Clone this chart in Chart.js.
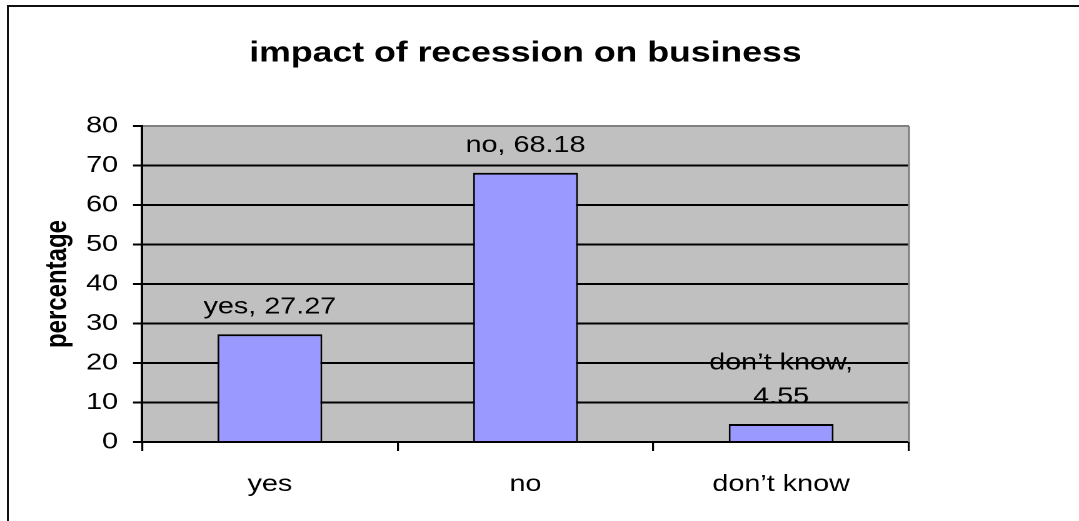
<!DOCTYPE html>
<html>
<head>
<meta charset="utf-8">
<script src="https://cdn.jsdelivr.net/npm/chart.js@4.4.1/dist/chart.umd.min.js"></script>
<style>
  html, body { margin: 0; padding: 0; background: #fff; width: 1079px; height: 521px; overflow: hidden; }
  #frame { position: absolute; left: 7px; top: 5px; width: 1200px; height: 600px;
           border-left: 2px solid #111; border-top: 2px solid #111; box-sizing: border-box; }
  #chart { position: absolute; left: 0; top: 0; }
</style>
</head>
<body>
<div id="frame"></div>
<!-- drawn on a narrower canvas and widened by CSS, giving the wide lettering of the original chart -->
<canvas id="chart" width="863" height="521" style="width:1079px;height:521px"></canvas>
<script>
const categories = ['yes', 'no', 'don’t know'];
const percentages = [27.27, 68.18, 4.55];
const yTickValues = [0, 10, 20, 30, 40, 50, 60, 70, 80];

const FONT = '"Liberation Sans", Arial, sans-serif';
const LABEL_MAX_WIDTH = 120;

// grey plot area behind the grid
const plotBackground = {
  id: 'plotBackground',
  beforeDraw(chart) {
    const { ctx, chartArea: a } = chart;
    ctx.save();
    ctx.fillStyle = '#C0C0C0';
    ctx.fillRect(a.left, a.top, a.right - a.left, a.bottom - a.top);
    ctx.restore();
  }
};

// grey right edge of the plot area
const plotFrame = {
  id: 'plotFrame',
  afterDraw(chart) {
    const { ctx, chartArea: a } = chart;
    ctx.save();
    ctx.strokeStyle = '#808080';
    ctx.lineWidth = 1.6;
    ctx.beginPath();
    ctx.moveTo(a.right, a.top);
    ctx.lineTo(a.right, a.bottom);
    ctx.stroke();
    ctx.restore();
  }
};

// "category, value" labels above each bar, wrapped at the comma when too wide
const barLabels = {
  id: 'barLabels',
  afterDatasetsDraw(chart) {
    const { ctx } = chart;
    const meta = chart.getDatasetMeta(0);
    ctx.save();
    ctx.font = '23px ' + FONT;
    ctx.fillStyle = '#000';
    ctx.textAlign = 'center';
    ctx.textBaseline = 'middle';
    meta.data.forEach((bar, i) => {
      const cat = categories[i];
      const val = chart.data.datasets[0].data[i];
      let lines = [cat + ', ' + val];
      if (ctx.measureText(lines[0]).width > LABEL_MAX_WIDTH) lines = [cat + ',', String(val)];
      const lastY = bar.y - 27;
      lines.forEach((t, k) => {
        ctx.fillText(t, bar.x, lastY - (lines.length - 1 - k) * 34);
      });
    });
    ctx.restore();
  }
};

new Chart(document.getElementById('chart'), {
  type: 'bar',
  data: {
    labels: categories,
    datasets: [{
      data: percentages,
      backgroundColor: '#9999FF',
      borderColor: '#000',
      borderWidth: { top: 2, left: 1.5, right: 1.5, bottom: 0 },
      borderSkipped: 'start',
      categoryPercentage: 1,
      barPercentage: 0.41
    }]
  },
  options: {
    responsive: false,
    animation: false,
    devicePixelRatio: 2,
    events: [],
    layout: { padding: { left: 0, right: 136, top: 0, bottom: 0 } },
    plugins: {
      legend: { display: false },
      tooltip: { enabled: false },
      title: {
        display: true,
        fullSize: false,
        text: 'impact of recession on business',
        color: '#000',
        font: { family: FONT, size: 28.5, weight: 'bold', lineHeight: 1.2 },
        padding: { top: 36.5, bottom: 55.3 }
      }
    },
    scales: {
      x: {
        offset: true,
        afterFit(s) { s.height = 79; },
        grid: { offset: true, drawOnChartArea: false, drawTicks: true, tickLength: 9, color: '#000', lineWidth: 1.6 },
        border: { display: true, color: '#000', width: 2 },
        ticks: { color: '#000', padding: 20, font: { family: FONT, size: 23 } }
      },
      y: {
        min: yTickValues[0],
        max: yTickValues[yTickValues.length - 1],
        afterFit(s) { s.width = 113.6; },
        afterBuildTicks(s) { s.ticks = yTickValues.map(v => ({ value: v })); },
        grid: {
          color: c => (c.tick && c.tick.value === yTickValues[yTickValues.length - 1]) ? '#808080' : '#000',
          lineWidth: 2,
          tickColor: '#000',
          tickLength: 7.2
        },
        border: { display: true, color: '#000', width: 2 },
        ticks: { color: '#000', padding: 12, font: { family: FONT, size: 23 } },
        title: {
          display: true,
          text: 'percentage',
          color: '#000',
          font: { family: FONT, size: 24, weight: 'bold', lineHeight: 1.2 },
          padding: { top: 32, bottom: 0 }
        }
      }
    }
  },
  plugins: [plotBackground, barLabels, plotFrame]
});
</script>
</body>
</html>
